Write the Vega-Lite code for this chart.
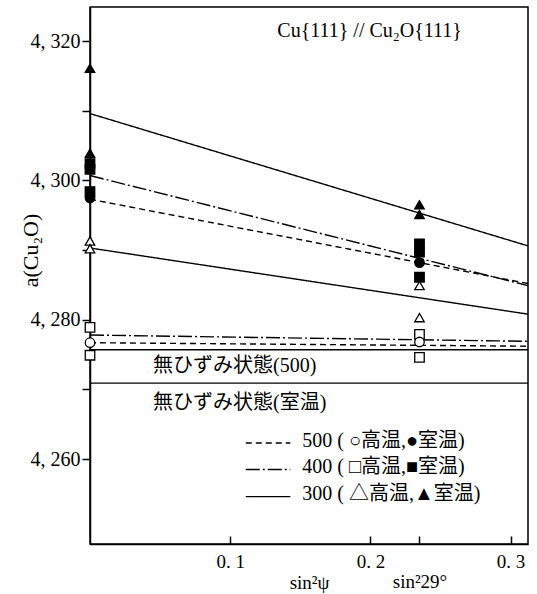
{
  "$schema": "https://vega.github.io/schema/vega-lite/v6.json",
  "width": 438,
  "height": 537,
  "autosize": {"type": "none"},
  "padding": {"left": 90, "top": 7, "right": 9, "bottom": 50},
  "background": "white",
  "config": {
    "view": {"stroke": "black", "strokeWidth": 1.5},
    "font": "'Liberation Serif', 'Noto Sans CJK JP'",
    "axis": {
      "domainColor": "black", "domainWidth": 1.5,
      "tickColor": "black", "tickWidth": 1.5,
      "labelColor": "black", "titleColor": "black",
      "grid": false,
      "labelFont": "'Liberation Serif', 'DejaVu Serif'",
      "titleFont": "'Liberation Serif', 'DejaVu Serif'",
      "titleFontWeight": "normal"
    }
  },
  "datasets": {
    "lines": [
      {"id": "300RT", "temp": "300", "x": 0, "y": 4.3096},
      {"id": "300RT", "temp": "300", "x": 0.3124, "y": 4.2906},
      {"id": "300HT", "temp": "300", "x": 0, "y": 4.2903},
      {"id": "300HT", "temp": "300", "x": 0.3124, "y": 4.2808},
      {"id": "400RT", "temp": "400", "x": 0, "y": 4.3007},
      {"id": "400RT", "temp": "400", "x": 0.3124, "y": 4.2849},
      {"id": "500RT", "temp": "500", "x": 0, "y": 4.2973},
      {"id": "500RT", "temp": "500", "x": 0.3124, "y": 4.2852},
      {"id": "400HT", "temp": "400", "x": 0, "y": 4.2778},
      {"id": "400HT", "temp": "400", "x": 0.3124, "y": 4.2769},
      {"id": "500HT", "temp": "500", "x": 0, "y": 4.2767},
      {"id": "500HT", "temp": "500", "x": 0.3124, "y": 4.2762},
      {"id": "U500", "temp": "ref", "x": 0, "y": 4.2757},
      {"id": "U500", "temp": "ref", "x": 0.3124, "y": 4.2757},
      {"id": "URT", "temp": "ref", "x": 0, "y": 4.2709},
      {"id": "URT", "temp": "ref", "x": 0.3124, "y": 4.2709}
    ],
    "points": [
      {"temp": "300", "cond": "RT", "x": 0, "y": 4.3161},
      {"temp": "300", "cond": "RT", "x": 0, "y": 4.3039},
      {"temp": "400", "cond": "RT", "x": 0, "y": 4.3024},
      {"temp": "400", "cond": "RT", "x": 0, "y": 4.3016},
      {"temp": "400", "cond": "RT", "x": 0, "y": 4.2984},
      {"temp": "500", "cond": "RT", "x": 0, "y": 4.2975},
      {"temp": "300", "cond": "HT", "x": 0, "y": 4.2913},
      {"temp": "300", "cond": "HT", "x": 0, "y": 4.2902},
      {"temp": "400", "cond": "HT", "x": 0, "y": 4.2789},
      {"temp": "500", "cond": "HT", "x": 0, "y": 4.2767},
      {"temp": "400", "cond": "HT", "x": 0, "y": 4.2749},
      {"temp": "300", "cond": "RT", "x": 0.235, "y": 4.2965},
      {"temp": "300", "cond": "RT", "x": 0.235, "y": 4.2951},
      {"temp": "400", "cond": "RT", "x": 0.235, "y": 4.2909},
      {"temp": "400", "cond": "RT", "x": 0.235, "y": 4.2897},
      {"temp": "500", "cond": "RT", "x": 0.235, "y": 4.2882},
      {"temp": "400", "cond": "RT", "x": 0.235, "y": 4.2861},
      {"temp": "300", "cond": "HT", "x": 0.235, "y": 4.2849},
      {"temp": "300", "cond": "HT", "x": 0.235, "y": 4.2803},
      {"temp": "400", "cond": "HT", "x": 0.235, "y": 4.2779},
      {"temp": "500", "cond": "HT", "x": 0.235, "y": 4.2768},
      {"temp": "400", "cond": "HT", "x": 0.235, "y": 4.2746}
    ],
    "legend": [
      {"temp": "500", "x": 0.1111, "x2": 0.1429, "y": 4.2623},
      {"temp": "400", "x": 0.1111, "x2": 0.1429, "y": 4.2585},
      {"temp": "300", "x": 0.1111, "x2": 0.1429, "y": 4.2546}
    ],
    "labels": [
      {"text": "Cu{111} // Cu₂O{111}", "x": 0.1336, "y": 4.3215},
      {"text": "無ひずみ状態(500)", "x": 0.045, "y": 4.2733},
      {"text": "無ひずみ状態(室温)", "x": 0.045, "y": 4.2681},
      {"text": "500 ( ○高温,●室温)", "x": 0.1514, "y": 4.2626},
      {"text": "400 ( □高温,■室温)", "x": 0.1514, "y": 4.2588},
      {"text": "300 ( △高温,▲室温)", "x": 0.1514, "y": 4.2550}
    ]
  },
  "encoding": {
    "x": {
      "field": "x", "type": "quantitative",
      "scale": {"domain": [0, 0.3124], "nice": false, "zero": false},
      "axis": {
        "values": [0.1, 0.2, 0.235, 0.3],
        "labelExpr": "datum.value > 0.23 && datum.value < 0.24 ? ['', 'sin²29°'] : replace(format(datum.value, '.1f'), '.', '. ')",
        "tickSize": -8,
        "labelPadding": 16,
        "labelFontSize": 19,
        "labelLineHeight": 20,
        "labelOverlap": false,
        "labelFlush": false,
        "title": "sin²ψ",
        "titleFontSize": 19,
        "titleX": 219,
        "titleY": 38,
        "titleAlign": "center",
        "titleBaseline": "middle"
      }
    },
    "y": {
      "field": "y", "type": "quantitative",
      "scale": {"domain": [4.2478, 4.3249], "nice": false, "zero": false},
      "axis": {
        "values": [4.26, 4.27, 4.28, 4.29, 4.3, 4.31, 4.32],
        "labelExpr": "round(datum.value * 1000) % 20 == 0 ? replace(format(datum.value, '.3f'), '.', ', ') : ''",
        "tickSize": 8,
        "labelPadding": 2,
        "labelFontSize": 20,
        "labelOverlap": false,
        "labelFlush": false,
        "title": "a(Cu₂O)",
        "titleFontSize": 22,
        "titleAngle": 270,
        "titleX": -60,
        "titleY": 243,
        "titleAlign": "center",
        "titleBaseline": "middle"
      }
    }
  },
  "layer": [
    {
      "data": {"name": "lines"},
      "mark": {"type": "line", "color": "black"},
      "encoding": {
        "detail": {"field": "id", "type": "nominal"},
        "strokeDash": {
          "field": "temp", "type": "nominal",
          "scale": {"domain": ["500", "400", "300", "ref"], "range": [[6, 4], [14, 3, 2, 3], [1, 0], [1, 0]]},
          "legend": null
        },
        "strokeWidth": {
          "field": "temp", "type": "nominal",
          "scale": {"domain": ["500", "400", "300", "ref"], "range": [1.4, 1.4, 1.4, 2.4]},
          "legend": null
        }
      }
    },
    {
      "data": {"name": "legend"},
      "mark": {"type": "rule", "color": "black"},
      "encoding": {
        "x2": {"field": "x2"},
        "strokeDash": {"field": "temp", "type": "nominal", "legend": null},
        "strokeWidth": {"field": "temp", "type": "nominal", "legend": null}
      }
    },
    {
      "data": {"name": "points"},
      "mark": {"type": "point", "filled": true, "stroke": "black", "strokeWidth": 1.3, "size": 90, "opacity": 1},
      "encoding": {
        "shape": {
          "field": "temp", "type": "nominal",
          "scale": {"domain": ["500", "400", "300"], "range": ["circle", "square", "triangle-up"]},
          "legend": null
        },
        "fill": {
          "field": "cond", "type": "nominal",
          "scale": {"domain": ["HT", "RT"], "range": ["white", "black"]},
          "legend": null
        }
      }
    },
    {
      "data": {"name": "labels"},
      "mark": {"type": "text", "align": "left", "baseline": "middle", "fontSize": 20, "color": "black", "font": "'Liberation Serif', 'Noto Sans CJK JP'"},
      "encoding": {
        "text": {"field": "text", "type": "nominal"}
      }
    }
  ]
}
